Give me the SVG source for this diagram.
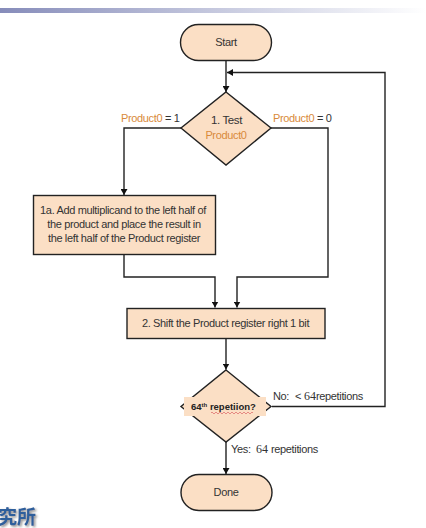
<svg xmlns="http://www.w3.org/2000/svg" width="426" height="528" viewBox="0 0 426 528">
<style>
.n{fill:#fbdfc5;stroke:#222;stroke-width:1.4}
.c{fill:none;stroke:#222;stroke-width:1.4}
text{font-family:"Liberation Sans",Arial,sans-serif;font-size:11px;fill:#333;letter-spacing:-.35px}
.m{text-anchor:middle}
.o{fill:#d98a3a}
.d{font-family:"Liberation Serif",serif;font-size:12px;letter-spacing:0}
</style>
<defs>
<linearGradient id="g"><stop offset="0" stop-color="#868cba"/><stop offset=".5" stop-color="#c5c8de"/><stop offset="1" stop-color="#fff"/></linearGradient>
<marker id="a" markerUnits="userSpaceOnUse" markerWidth="7" markerHeight="7" refX="6" refY="3.5" orient="auto"><path d="M0 0L6 3.5L0 7z" fill="#111"/></marker>
<filter id="s" x="-20%" y="-20%" width="150%" height="150%"><feDropShadow dx="1.500" dy="1.500" stdDeviation=".8" flood-color="#888"/></filter>
</defs>
<rect width="426" height="528" fill="#fff"/>
<rect x="0" y="8" width="426" height="5" fill="url(#g)"/>
<g id="connectors">
<path class="c" d="M226 60V92" marker-end="url(#a)"/>
<path class="c" d="M272 406.500H385V72.500H227" marker-end="url(#a)"/>
<path class="c" d="M181 128H124V195" marker-end="url(#a)"/>
<path class="c" d="M271 128H328V277H237V307.500" marker-end="url(#a)"/>
<path class="c" d="M124 255V277H215V307.500" marker-end="url(#a)"/>
<path class="c" d="M226 339V369.500" marker-end="url(#a)"/>
<path class="c" d="M226 442V474" marker-end="url(#a)"/>
</g>
<g id="start"><rect class="n" x="180.500" y="24.500" width="91" height="36" rx="18"/><text class="m" x="226" y="46">Start</text></g>
<g id="test"><path class="n" d="M226 92L271 128L226 165L181 128z"/><text class="m" x="226.500" y="124" style="font-size:11.500px">1. Test</text><text class="m o" x="226" y="139">Product0</text></g>
<g id="step1a"><rect class="n" x="33.500" y="195.500" width="182" height="59"/><text class="m" x="123" y="214">1a. Add multiplicand to the left half of</text><text class="m" x="124" y="228">the product and place the result in</text><text class="m" x="124" y="242">the left half of the Product register</text></g>
<g id="step2"><rect class="n" x="127" y="308.500" width="198" height="30"/><text class="m" x="225.500" y="327">2. Shift the Product register right 1 bit</text></g>
<g id="repeat"><path class="n" d="M226 370L271 406.500L226 442L181 406.500z"/><rect x="184" y="397" width="82" height="19" fill="#fbdfc5"/><text x="191" y="410" style="font-size:9.500px;font-weight:bold;letter-spacing:0;fill:#222">64<tspan dy="-3" style="font-size:6px">th</tspan><tspan dy="3"> repetiion?</tspan></text><path d="M211 413q1-2 2 0t2 0t2 0t2 0t2 0t2 0t2 0t2 0t2 0t2 0t2 0t2 0t2 0t2 0t2 0t2 0t2 0t2 0t2 0t2 0t2 0" fill="none" stroke="#d66" stroke-width=".7"/></g>
<g id="done"><rect class="n" x="181" y="474.500" width="91" height="36" rx="18"/><text class="m" x="226" y="496">Done</text></g>
<g id="labels">
<text x="121" y="122"><tspan class="o">Product0</tspan> = 1</text>
<text x="273" y="122"><tspan class="o">Product0</tspan> = 0</text>
<text y="400"><tspan x="273">No:</tspan><tspan x="295">&lt;</tspan><tspan x="304" class="d">64</tspan><tspan x="316">repetitions</tspan></text>
<text y="453"><tspan x="231">Yes:</tspan><tspan x="256" class="d">64</tspan><tspan x="271">repetitions</tspan></text>
</g>
<text x="-2" y="524" filter="url(#s)" style="font-family:'Noto Sans CJK TC','Noto Sans CJK SC',sans-serif;font-size:19px;font-weight:bold;fill:#2f5f9c;letter-spacing:0">究所</text>
</svg>
